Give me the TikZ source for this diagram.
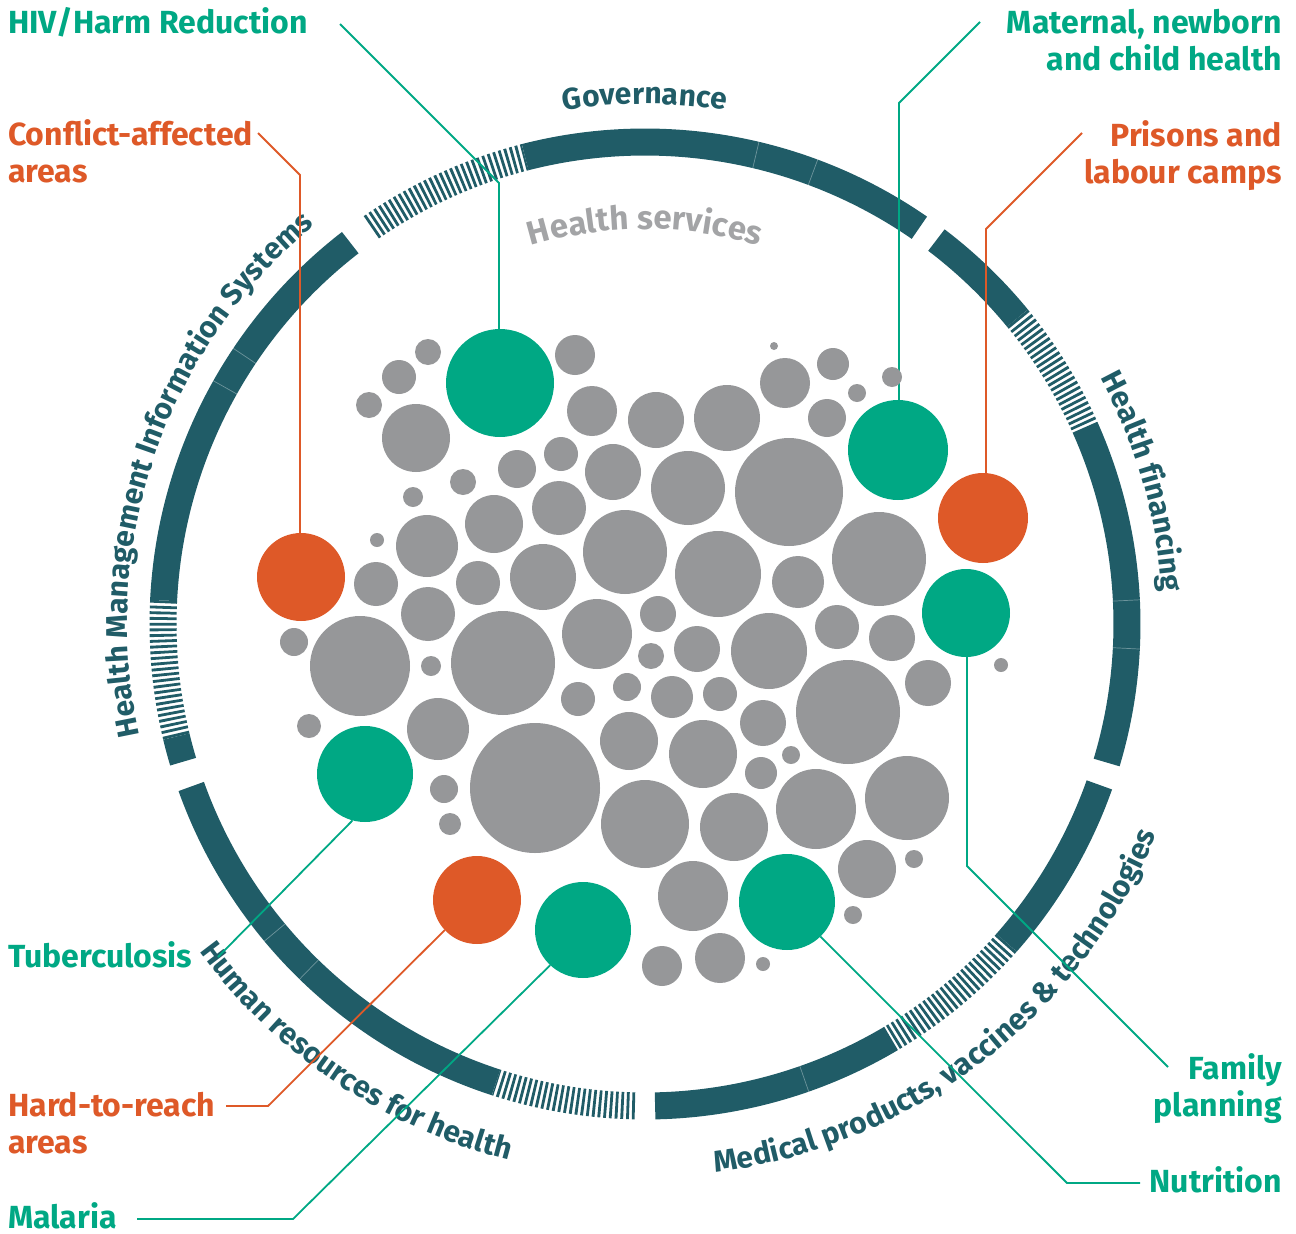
\documentclass[tikz,border=0pt]{standalone}
\usepackage{fontspec}
\setmainfont{Fira Sans}
\usetikzlibrary{decorations.text}
\definecolor{ringteal}{RGB}{32,92,103}
\definecolor{hgreen}{RGB}{0,168,132}
\definecolor{horange}{RGB}{222,89,40}
\definecolor{bubgray}{RGB}{150,151,153}
\definecolor{txtgray}{RGB}{163,164,166}
\tikzstyle{ringarc} = [draw=ringteal, line width=27pt, line cap=butt]
\tikzstyle{seamline} = [draw=white, opacity=0.35, line width=0.7pt]
\tikzstyle{bubble} = [circle, inner sep=0pt, outer sep=0pt]
\tikzstyle{greybubble} = [bubble, fill=bubgray]
\tikzstyle{gline} = [draw=hgreen, line width=1.8pt]
\tikzstyle{oline} = [draw=horange, line width=1.8pt]
\tikzstyle{lbl} = [font=\fontsize{32}{37}\selectfont\bfseries, inner sep=0pt]
\newcommand{\ringfont}{\fontsize{30}{31}\selectfont\bfseries}
\newcommand{\ringseg}[2]{\draw[ringarc] ([shift={(ctr)}]#1:482pt) arc[start angle=#1, end angle=#2, radius=482pt];}
\newcommand{\ringhatch}[2]{\draw[ringarc, dash pattern=on 2.8pt off 2.8pt] ([shift={(ctr)}]#1:482pt) arc[start angle=#1, end angle=#2, radius=482pt];}
\newcommand{\ringseam}[1]{\draw[seamline] ([shift={(ctr)}]#1:468pt) -- ([shift={(ctr)}]#1:496pt);}
\begin{document}
\begin{tikzpicture}[x=1pt, y=1pt]
\useasboundingbox (0,0) rectangle (1296,-1234);
\coordinate (ctr) at (645,-624);

\ringhatch{124.6}{104.4}
\ringseg{104.4}{55.3}
\ringseg{52.8}{39.4}
\ringhatch{39.4}{24.1}
\ringseg{24.1}{-16.7}
\ringseg{-19.5}{-41.4}
\ringhatch{-41.4}{-59.3}
\ringseg{-59.3}{-88.8}
\ringhatch{-91.2}{-108}
\ringseg{-108}{-160.3}
\ringseg{196.6}{193.5}
\ringhatch{193.5}{177.2}
\ringseg{177.2}{127.7}
\ringseam{76.7}
\ringseam{69.6}
\ringseam{2.8}
\ringseam{-2.9}
\ringseam{-70.7}
\ringseam{-134.2}
\ringseam{-140.2}
\ringseam{150.6}
\ringseam{146.2}

\path[decorate, decoration={text along path, text align=center, text color=ringteal,
    text={|\ringfont|Governance}}]
    ([shift={(ctr)}]125:520pt) arc[start angle=125, end angle=55, radius=520pt];
\path[decorate, decoration={text along path, text align=center, text color=ringteal,
    text={|\ringfont|Health financing}}]
    ([shift={(ctr)}]62:518pt) arc[start angle=62, end angle=-30, radius=518pt];
\path[decorate, decoration={text along path, text align=center, text color=ringteal,
    text={|\ringfont|Health Management Information Systems}}]
    ([shift={(ctr)}]215:518pt) arc[start angle=215, end angle=107, radius=518pt];
\path[decorate, decoration={text along path, text align=center, text color=ringteal,
    text={|\ringfont|Human resources for health}}]
    ([shift={(ctr)}]-175:553pt) arc[start angle=-175, end angle=-73, radius=553pt];
\path[decorate, decoration={text along path, text align=center, text color=ringteal,
    text={|\ringfont|Medical products, vaccines {\&} technologies}}]
    ([shift={(ctr)}]-100:553pt) arc[start angle=-100, end angle=-5, radius=553pt];
\path[decorate, decoration={text along path, text align=center, text color=txtgray,
    text={|\fontsize{33}{35}\selectfont\bfseries|Health services}}]
    ([shift={(ctr)}]130:395pt) arc[start angle=130, end angle=50, radius=395pt];

\coordinate (hivstart) at (340,-24);
\coordinate (hivbend) at (499,-183);
\coordinate (mnchstart) at (980,-22);
\coordinate (mnchbend) at (899,-103);
\coordinate (confstart) at (258,-133);
\coordinate (confbend) at (300,-175);
\coordinate (prisstart) at (1082,-133);
\coordinate (prisbend) at (986,-229);
\coordinate (tbstart) at (218,-957);
\coordinate (htrstart) at (226,-1106);
\coordinate (htrbend) at (268,-1106);
\coordinate (malstart) at (137,-1219);
\coordinate (malbend) at (293,-1219);
\coordinate (fpstart) at (1168,-1067);
\coordinate (fpbend) at (967,-866);
\coordinate (nutstart) at (1140,-1183);
\coordinate (nutbend) at (1067,-1183);

\node[bubble, fill=hgreen, minimum size=108pt] (hivdot) at (500,-383) {};
\node[bubble, fill=hgreen, minimum size=100pt] (mnchdot) at (898,-450) {};
\node[bubble, fill=horange, minimum size=90pt] (prisdot) at (983,-518) {};
\node[bubble, fill=horange, minimum size=88pt] (confdot) at (301,-577) {};
\node[bubble, fill=hgreen, minimum size=88pt] (fpdot) at (966,-613) {};
\node[bubble, fill=hgreen, minimum size=96pt] (tbdot) at (365,-774) {};
\node[bubble, fill=horange, minimum size=88pt] (htrdot) at (477,-900) {};
\node[bubble, fill=hgreen, minimum size=96pt] (maldot) at (583,-930) {};
\node[bubble, fill=hgreen, minimum size=96pt] (nutdot) at (787,-902) {};

\draw[gline] (hivstart) -- (hivbend) -- (hivbend |- hivdot.north);
\draw[gline] (mnchstart) -- (mnchbend) -- (mnchbend |- mnchdot.north);
\draw[oline] (confstart) -- (confbend) -- (confbend |- confdot.north);
\draw[oline] (prisstart) -- (prisbend) -- (prisbend |- prisdot.north);
\draw[gline] (tbstart) -- (tbdot.-105);
\draw[oline] (htrstart) -- (htrbend) -- (htrdot.-137);
\draw[gline] (malstart) -- (malbend) -- (maldot.-133);
\draw[gline] (fpstart) -- (fpbend) -- (fpbend |- fpdot.south);
\draw[gline] (nutstart) -- (nutbend) -- (nutdot.-46);

\foreach \bx/\by/\br [count=\i] in {428/352/13, 399/377/17, 369/405/13, 416/438/34,
    575/355/20, 592/411/25, 656/420/28, 727/418/33, 774/346/4, 785/383/25, 833/364/16,
    857/393/9, 892/377/10, 827/418/19, 517/469/19, 561/454/17, 463/482/13, 413/497/10,
    613/472/28, 688/488/37, 789/492/54, 494/524/29, 559/508/27, 377/540/7, 427/546/31,
    625/552/42, 718/574/43, 879/559/47, 376/584/22, 478/583/22, 543/577/33, 798/582/26,
    428/614/27, 597/634/35, 658/614/18, 837/627/22, 892/638/23, 294/642/14, 360/666/50,
    431/666/10, 503/663/52, 651/656/13, 697/649/23, 769/651/38, 1001/665/7, 928/683/23,
    848/712/52, 578/699/17, 627/687/14, 672/697/21, 720/694/17, 309/726/12, 438/729/31,
    629/741/29, 763/723/23, 444/789/14, 535/788/65, 703/754/34, 761/773/16, 791/755/9,
    450/824/11, 645/824/44, 734/827/34, 816/809/40, 907/798/42, 867/869/29, 914/859/9,
    693/896/35, 853/915/9, 662/966/20, 720/958/25, 763/964/7}
  \node[greybubble, minimum size=\br*2pt] (gb\i) at (\bx,-\by) {};

\node[lbl, text=hgreen, anchor=base west] (hivlbl) at (8,-33) {HIV/Harm Reduction};
\node[lbl, text=hgreen, anchor=base east, align=right] (mnchlbl) at (1282,-70) {Maternal, newborn\\and child health};
\node[lbl, text=horange, anchor=base west, align=left] (conflbl) at (8,-182) {Conflict-affected\\areas};
\node[lbl, text=horange, anchor=base east, align=right] (prislbl) at (1282,-183) {Prisons and\\labour camps};
\node[lbl, text=hgreen, anchor=base west] (tblbl) at (8,-967) {Tuberculosis};
\node[lbl, text=horange, anchor=base west, align=left] (htrlbl) at (8,-1153) {Hard-to-reach\\areas};
\node[lbl, text=hgreen, anchor=base west] (mallbl) at (8,-1228) {Malaria};
\node[lbl, text=hgreen, anchor=base east, align=right] (fplbl) at (1282,-1116) {Family\\planning};
\node[lbl, text=hgreen, anchor=base east] (nutlbl) at (1282,-1192) {Nutrition};
\end{tikzpicture}
\end{document}
